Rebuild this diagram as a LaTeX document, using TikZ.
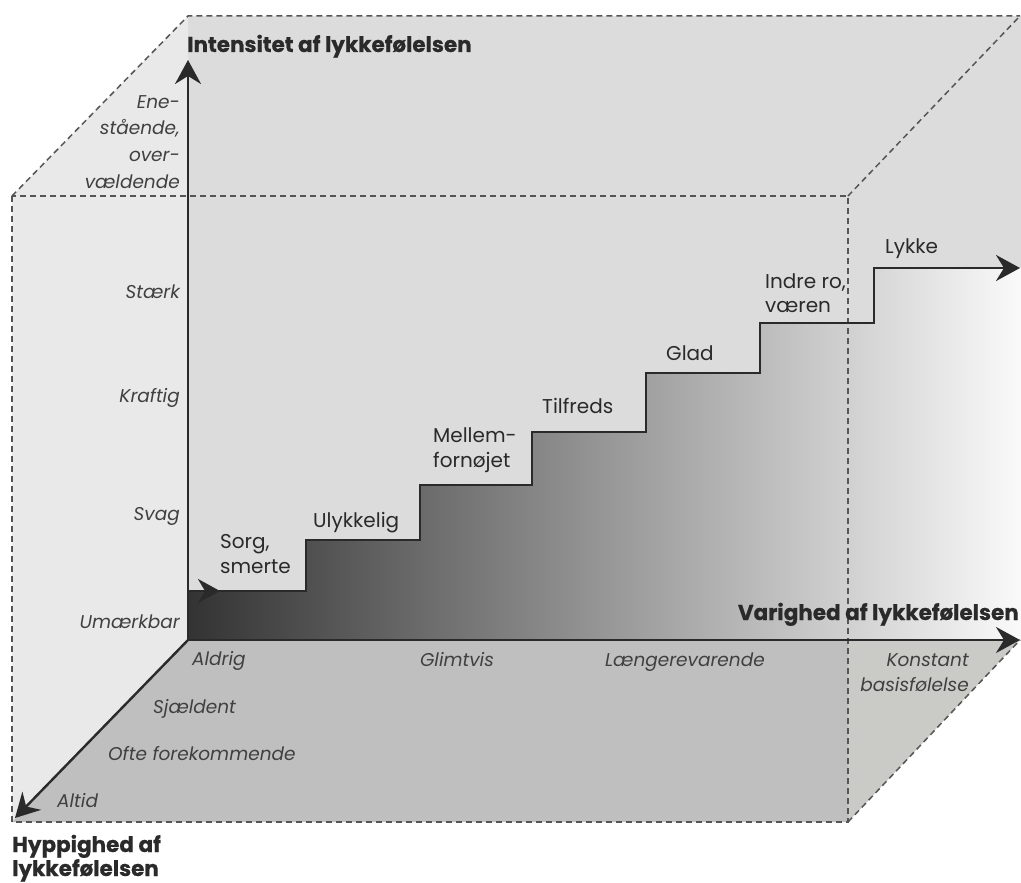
\documentclass[tikz,border=0pt]{standalone}
\usepackage{fontspec}
\setmainfont{Poppins}
\newfontfamily\titlefont{Poppins}[FakeBold=0.6]
\usetikzlibrary{arrows.meta}
\definecolor{edgegray}{HTML}{555555}
\definecolor{sideface}{HTML}{E9E9E9}
\definecolor{backface}{HTML}{DCDCDC}
\definecolor{floorface}{HTML}{BFBFBF}
\definecolor{floorright}{HTML}{CACAC6}
\definecolor{ink}{HTML}{2A2A2A}
\definecolor{softink}{HTML}{404040}
\begin{document}
\begin{tikzpicture}[x=1pt,y=-1pt,
  dashedge/.style={draw=edgegray,line width=1.5pt,dash pattern=on 6pt off 4pt},
  bigtip/.style={-{Stealth[length=24pt,width=26pt,inset=8pt]}},
  axis/.style={line width=2.4pt,draw=ink,bigtip},
  stairline/.style={line width=2.8pt,draw=ink,line join=miter},
  steplabel/.style={font=\fontsize{20}{25}\selectfont,text=ink,align=left,inner sep=0pt},
  scalelabel/.style={font=\itshape\fontsize{18.5}{27}\selectfont,text=softink,inner sep=0pt},
  axislabel/.style={font=\titlefont\bfseries\fontsize{21.5}{24}\selectfont,text=ink,inner sep=0pt,align=left}
]
\useasboundingbox (0,0) rectangle (1021,883);

% cube corners
\coordinate (O) at (188,640);
\coordinate (BTL) at (188,16);
\coordinate (BTR) at (1020,16);
\coordinate (BBR) at (1020,640);
\coordinate (FTL) at (12,196);
\coordinate (FTR) at (848,196);
\coordinate (FBL) at (12,822);
\coordinate (FBR) at (848,822);
\coordinate (FMR) at (848,640);

% faces
\fill[backface] (BTL) rectangle (1021,640);
\fill[sideface] (FTL) -- (BTL) -- (O) -- (FBL) -- cycle;
\fill[floorface] (O) -- (FMR) -- (FBR) -- (FBL) -- cycle;
\fill[floorright] (FMR) -- (BBR) -- (FBR) -- cycle;

% area under the staircase
\shade[left color=black!80, right color=black!2]
  (O) -- (188,591) -- (306,591) -- (306,540) -- (420,540) -- (420,485)
  -- (532,485) -- (532,432) -- (646,432) -- (646,373) -- (760,373)
  -- (760,323) -- (874,323) -- (874,268) -- (1021,268) -- (1021,640) -- cycle;

% dashed cube edges
\draw[dashedge] (FTL) -- (BTL) -- (BTR);
\draw[dashedge] (FTR) -- (BTR);
\draw[dashedge] (FTL) rectangle (FBR);
\draw[dashedge] (FBR) -- (BBR);

% staircase
\coordinate (S0) at (188,591);
\coordinate (S0a) at (220,591);
\coordinate (S7) at (1020,268);
\draw[stairline,bigtip]
  (S0) -- (306,591) -- (306,540) -- (420,540) -- (420,485)
  -- (532,485) -- (532,432) -- (646,432) -- (646,373) -- (760,373)
  -- (760,323) -- (874,323) -- (874,268) -- (S7);
\draw[line width=2.8pt,draw=ink,-{Stealth[length=22pt,width=24pt,inset=7pt]}] (S0) -- (S0a);

% axes
\coordinate (Ytip) at (188,60);
\coordinate (Xtip) at (1020,640);
\coordinate (Ztip) at (15,818);
\draw[axis] (O) -- (Ytip);
\draw[axis] (O) -- (Xtip);
\draw[axis] (O) -- (Ztip);

% axis titles
\node[axislabel,anchor=base west] (ylab) at (187,52) {Intensitet af lykkefølelsen};
\node[axislabel,anchor=base east] (xlab) at (1019,620) {Varighed af lykkefølelsen};
\node[axislabel,anchor=base west] (zlab1) at (12,852) {Hyppighed af};
\node[axislabel,anchor=base west] (zlab2) at (12,876) {lykkefølelsen};

% intensity scale
\node[scalelabel,anchor=base east] (i5a) at (180,108) {Ene-};
\node[scalelabel,anchor=base east] (i5b) at (180,135) {stående,};
\node[scalelabel,anchor=base east] (i5c) at (180,161) {over-};
\node[scalelabel,anchor=base east] (i5d) at (180,188) {vældende};
\node[scalelabel,anchor=base east] (i4) at (180,298) {Stærk};
\node[scalelabel,anchor=base east] (i3) at (180,402) {Kraftig};
\node[scalelabel,anchor=base east] (i2) at (180,520) {Svag};
\node[scalelabel,anchor=base east] (i1) at (180,628) {Umærkbar};

% duration scale
\node[scalelabel,anchor=base west] (d1) at (192,665) {Aldrig};
\node[scalelabel,anchor=base] (d2) at (457,666) {Glimtvis};
\node[scalelabel,anchor=base] (d3) at (685,666) {Længerevarende};
\node[scalelabel,anchor=base east] (d4a) at (969,666) {Konstant};
\node[scalelabel,anchor=base east] (d4b) at (969,691) {basisfølelse};

% frequency scale
\node[scalelabel,anchor=base west] (f1) at (153,713) {Sjældent};
\node[scalelabel,anchor=base west] (f2) at (108,760) {Ofte forekommende};
\node[scalelabel,anchor=base west] (f3) at (57,807) {Altid};

% step labels
\node[steplabel,anchor=base west] (st1a) at (220,548) {Sorg,};
\node[steplabel,anchor=base west] (st1b) at (220,573) {smerte};
\node[steplabel,anchor=base west] (st2) at (313,527) {Ulykkelig};
\node[steplabel,anchor=base west] (st3a) at (433,442) {Mellem-};
\node[steplabel,anchor=base west] (st3b) at (433,467) {fornøjet};
\node[steplabel,anchor=base west] (st4) at (542,413) {Tilfreds};
\node[steplabel,anchor=base west] (st5) at (666,360) {Glad};
\node[steplabel,anchor=base west] (st6a) at (765,288) {Indre ro,};
\node[steplabel,anchor=base west] (st6b) at (765,312) {væren};
\node[steplabel,anchor=base west] (st7) at (885,253) {Lykke};
\end{tikzpicture}
\end{document}
